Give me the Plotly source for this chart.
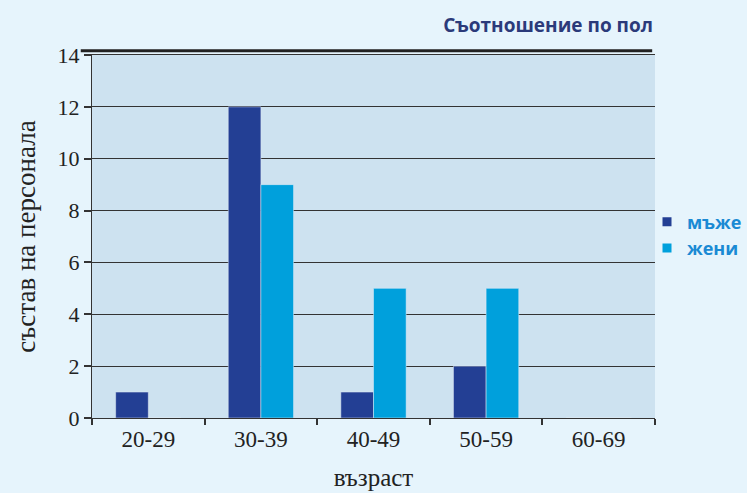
import plotly.graph_objects as go

categories = ["20-29", "30-39", "40-49", "50-59", "60-69"]
men = [1, 12, 1, 2, 0]
women = [0, 9, 5, 5, 0]
series_names = ["мъже", "жени"]
y_ticks = [0, 2, 4, 6, 8, 10, 12, 14]

DARK = "#233f94"
LIGHT = "#00a0dc"
SERIF = "Liberation Serif"

fig = go.Figure()
fig.add_trace(go.Bar(x=categories, y=men, marker_color=DARK, showlegend=False))
fig.add_trace(go.Bar(x=categories, y=women, marker_color=LIGHT, showlegend=False))
# legend entries with small square markers
for name, col in zip(series_names, [DARK, LIGHT]):
    fig.add_trace(go.Scatter(x=[None], y=[None], mode="markers", name=name,
                             marker=dict(symbol="square", size=9, color=col)))

fig.update_layout(
    width=747, height=493,
    margin=dict(l=92, r=92, t=55, b=75, autoexpand=False),
    paper_bgcolor="#e6f4fc",
    plot_bgcolor="#cde2f0",
    barmode="group",
    bargap=0.42,
    bargroupgap=0,
    title=dict(text="<b>Съотношение по пол</b>", x=653/747, xanchor="right", xref="container",
               y=1 - 25/493, yanchor="middle",
               font=dict(family="Open Sans", size=19, color="#2b3a7a")),
    legend=dict(xref="container", yref="container", x=647/747, y=1 - 235/493,
                xanchor="left", yanchor="middle",
                font=dict(family="Open Sans", size=18, color="#1a8ad4", weight="bold"),
                itemwidth=30, tracegroupgap=0, bgcolor="rgba(0,0,0,0)"),
    xaxis=dict(
        automargin=False,
        showline=True, linecolor="#333", linewidth=1, mirror=True,
        ticks="outside", ticklen=6, tickwidth=2, tickcolor="#333",
        tickson="boundaries", showgrid=False,
        tickfont=dict(family=SERIF, size=23, color="#222"),
        title=dict(text="възраст", font=dict(family=SERIF, size=25, color="#222"), standoff=17),
    ),
    yaxis=dict(
        automargin=False,
        range=[0, 14], tickvals=y_ticks,
        showline=True, linecolor="#333", linewidth=1,
        ticks="outside", ticklen=7, tickwidth=2, tickcolor="#333",
        showgrid=True, gridcolor="#333", gridwidth=1,
        tickfont=dict(family=SERIF, size=22, color="#222"),
        title=dict(text="състав на персонала", font=dict(family=SERIF, size=27, color="#222"), standoff=14),
        zeroline=False,
    ),
)
# thick rule above the plot area
fig.add_shape(type="line", xref="paper", yref="paper", x0=-0.02, x1=0.995, y0=1.012, y1=1.012,
              line=dict(color="#222", width=3))

fig.write_html("out.html", config={"displayModeBar": False},
               post_script="document.body.style.margin='0';")
